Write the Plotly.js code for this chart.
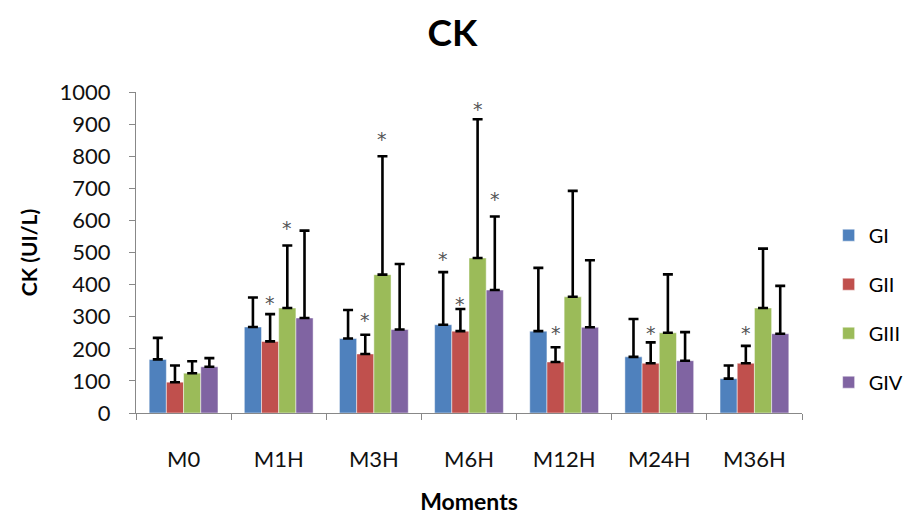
<!DOCTYPE html>
<html>
<head>
<meta charset="utf-8">
<script src="https://cdn.plot.ly/plotly-3.0.1.min.js"></script>
<style>html,body{margin:0;padding:0;background:#fff;}#chart{width:905px;height:515px;}</style>
</head>
<body>
<div id="chart"></div>
<script>
const categories = ["M0", "M1H", "M3H", "M6H", "M12H", "M24H", "M36H"];
const seriesNames = ["GI", "GII", "GIII", "GIV"];
const GI   = [167, 268, 232, 275, 255, 175, 107];
const GII  = [96, 223, 184, 255, 159, 155, 155];
const GIII = [124, 327, 431, 483, 362, 250, 327];
const GIV  = [144, 296, 260, 383, 267, 163, 247];
const GI_sd   = [67, 92, 89, 164, 197, 118, 41];
const GII_sd  = [52, 85, 60, 69, 46, 65, 54];
const GIII_sd = [37, 195, 369, 432, 330, 182, 185];
const GIV_sd  = [27, 272, 204, 229, 209, 89, 149];
// significance markers: [series index, category index, star height (UI/L)]
const stars = [
  [1, 1, 351], [2, 1, 585],
  [1, 2, 300], [2, 2, 864],
  [0, 3, 489], [1, 3, 349], [2, 3, 955], [3, 3, 676],
  [1, 4, 258], [1, 5, 258], [1, 6, 258]
];

const colors = ["#4F81BD", "#C0504D", "#9BBB59", "#8064A2"];
const values = [GI, GII, GIII, GIV];
const sds = [GI_sd, GII_sd, GIII_sd, GIV_sd];
const FONT = "Lato, 'Open Sans', sans-serif";
const bargap = 0.277;
const barW = (1 - bargap) / 4;

const traces = seriesNames.map((name, j) => ({
  type: "bar",
  name: name,
  legendgroup: name,
  x: categories,
  y: values[j],
  marker: { color: colors[j], line: { color: "rgba(255,255,255,0.6)", width: 0.8 } },
  error_y: {
    type: "data", symmetric: false, array: sds[j],
    arrayminus: sds[j].map(() => 0),
    color: "#000", thickness: 2.6, width: 5
  }
}));

const annotations = stars.map(([j, i, y]) => ({
  x: i + (j - 1.5) * barW, y: y, xref: "x", yref: "y",
  text: "*", showarrow: false, yshift: -3,
  font: { family: "'DejaVu Sans', sans-serif", size: 19, color: "#555555" }
}));

const layout = {
  width: 905, height: 515,
  margin: { l: 136, r: 103, t: 92, b: 102, autoexpand: false },
  paper_bgcolor: "#fff", plot_bgcolor: "#fff",
  font: { family: FONT, color: "#000" },
  title: { text: "<b>CK</b>", x: 0.5, xanchor: "center", y: 0.935, yanchor: "middle",
           font: { family: FONT, size: 37, color: "#000" } },
  barmode: "group", bargap: bargap, bargroupgap: 0,
  xaxis: {
    type: "category", tickson: "boundaries", ticks: "outside", ticklen: 6,
    tickcolor: "#888", showline: true, linecolor: "#888", linewidth: 1,
    showgrid: false, zeroline: false, automargin: false,
    tickfont: { family: FONT, size: 22, color: "#111" },
    ticklabelstandoff: 27,
    title: { text: "<b>Moments</b>", font: { family: FONT, size: 23, color: "#000" }, standoff: 31 }
  },
  yaxis: {
    range: [0, 1000], tickmode: "linear", tick0: 0, dtick: 100,
    ticks: "outside", ticklen: 6, tickcolor: "#888",
    showline: true, linecolor: "#888", linewidth: 1,
    showgrid: false, zeroline: false, automargin: false,
    tickfont: { family: FONT, size: 22, color: "#111" },
    ticklabelstandoff: 14,
    title: { text: "<b>CK (UI/L)</b>", font: { family: FONT, size: 21, color: "#000" }, standoff: 16 }
  },
  legend: {
    x: 1.04, xanchor: "left", y: 0.325, yanchor: "middle",
    font: { family: FONT, size: 20, color: "#000" },
    tracegroupgap: 20, itemwidth: 30, traceorder: "grouped"
  },
  annotations: annotations,
  showlegend: true
};

Plotly.newPlot("chart", traces, layout, { displayModeBar: false, staticPlot: true });
</script>
</body>
</html>
